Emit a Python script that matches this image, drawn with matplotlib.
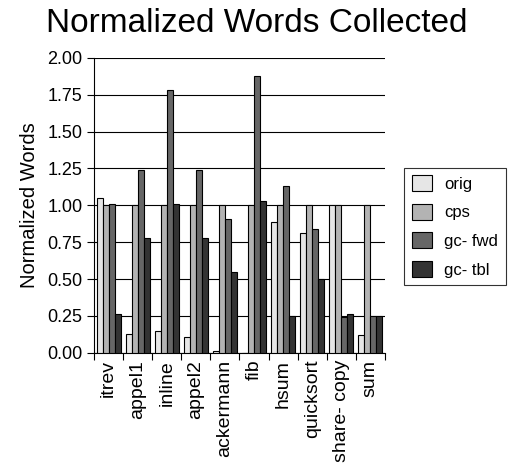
import matplotlib
matplotlib.use("Agg")
import matplotlib.pyplot as plt
import numpy as np

plt.rcParams['font.family'] = ['Liberation Sans', 'DejaVu Sans']

benchmarks = ["itrev", "appel1", "inline", "appel2", "ackermann", "fib",
              "hsum", "quicksort", "share- copy", "sum"]
orig = [1.05, 0.13, 0.15, 0.11, 0.01, 0.00, 0.89, 0.81, 1.00, 0.12]
cps = [1.00, 1.00, 1.00, 1.00, 1.00, 1.00, 1.00, 1.00, 1.00, 1.00]
gc_fwd = [1.01, 1.24, 1.78, 1.24, 0.91, 1.88, 1.13, 0.84, 0.24, 0.25]
gc_tbl = [0.26, 0.78, 1.01, 0.78, 0.55, 1.03, 0.25, 0.50, 0.26, 0.25]

series = [("orig", orig, "#e6e6e6"), ("cps", cps, "#b3b3b3"),
          ("gc- fwd", gc_fwd, "#666666"), ("gc- tbl", gc_tbl, "#333333")]

fig = plt.figure(figsize=(5.09, 4.63), dpi=100)
ax = fig.add_axes([0.185, 0.238, 0.571, 0.637])

x = np.arange(len(benchmarks))
w = 0.205
for i, (name, vals, col) in enumerate(series):
    ax.bar(x + (i - 1.5) * w, vals, w, color=col, edgecolor="black",
           linewidth=0.8, label=name, zorder=3)

ax.set_xlim(-0.5, len(benchmarks) - 0.5)
ax.set_ylim(0, 2.0)
ticks = np.arange(0, 2.01, 0.25)
ax.set_yticks(ticks)
ax.set_yticklabels(["%.2f" % v for v in ticks], fontsize=13)
ax.yaxis.grid(True, color="black", linewidth=0.8, zorder=0)
ax.set_axisbelow(True)

# ticks sit between groups, labels centred under each group
ax.set_xticks(np.arange(-0.5, len(benchmarks), 1.0))
ax.set_xticklabels([])
ax.set_xticks(x, minor=True)
ax.set_xticklabels(benchmarks, minor=True, rotation=90, fontsize=14)
ax.tick_params(axis="x", which="minor", length=0, pad=5)
ax.tick_params(axis="x", which="major", length=5, direction="out")
ax.tick_params(axis="y", length=5, direction="out")

for s in ["top", "right"]:
    ax.spines[s].set_visible(False)

ax.set_ylabel("Normalized Words", fontsize=14.5, labelpad=6)
fig.suptitle("Normalized Words Collected", fontsize=24, x=0.505, y=0.982)

leg = ax.legend(loc="center left", bbox_to_anchor=(0.794, 0.511),
                bbox_transform=fig.transFigure, fontsize=12, frameon=True,
                fancybox=False, edgecolor="black", handlelength=1.25,
                handleheight=1.1, borderpad=0.45, labelspacing=0.72,
                handletextpad=0.7, borderaxespad=0)
leg.get_frame().set_linewidth(0.8)

fig.savefig("out.png", dpi=100)
